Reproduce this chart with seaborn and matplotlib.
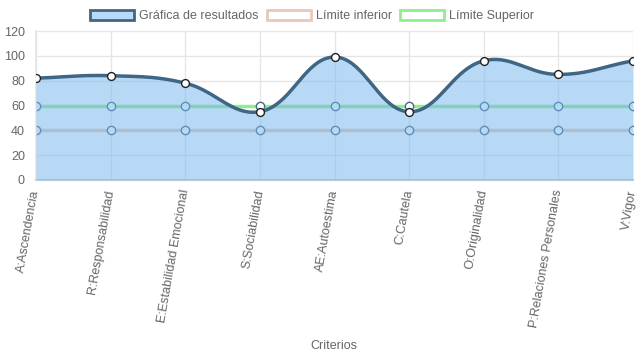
import numpy as np
import pandas as pd
import seaborn as sns
import matplotlib.pyplot as plt
from matplotlib.patches import Patch

# === DATA ===
criterios = [
    "A:Ascendencia", "R:Responsabilidad", "E:Estabilidad Emocional",
    "S:Sociabilidad", "AE:Autoestima", "C:Cautela",
    "O:Originalidad", "P:Relaciones Personales", "V:Vigor",
]
resultados = [82, 84, 78, 55, 99, 55, 96, 85, 96]
limite_inferior = [40, 40, 40, 40, 40, 40, 40, 40, 40]
limite_superior = [60, 60, 60, 60, 60, 60, 60, 60, 60]

# === COLORS ===
c_res_line = "#3f6685"
c_res_fill = (0.45, 0.71, 0.93, 0.5)
c_inf = "#e8c8b8"
c_sup = "#90ee90"
c_grid = "#e6e6e6"
c_text = "#666666"

sns.set_theme(style="white")
plt.rcParams["font.family"] = ["Liberation Sans", "DejaVu Sans"]

df = pd.DataFrame({
    "pos": np.arange(len(criterios)),
    "criterio": criterios,
    "resultados": resultados,
    "inferior": limite_inferior,
    "superior": limite_superior,
})


def spline_curve(xs, ys, sx, sy, tension=0.4, n=40):
    # Chart.js-like bezier smoothing, computed in pixel space
    px = np.asarray(xs, float) * sx
    py = np.asarray(ys, float) * sy
    k = len(px)
    cp_prev = np.zeros((k, 2))
    cp_next = np.zeros((k, 2))
    for i in range(k):
        p0 = (px[max(i - 1, 0)], py[max(i - 1, 0)])
        p1 = (px[i], py[i])
        p2 = (px[min(i + 1, k - 1)], py[min(i + 1, k - 1)])
        d01 = np.hypot(p1[0] - p0[0], p1[1] - p0[1])
        d12 = np.hypot(p2[0] - p1[0], p2[1] - p1[1])
        tot = d01 + d12
        s01 = d01 / tot if tot else 0
        s12 = d12 / tot if tot else 0
        fa, fb = tension * s01, tension * s12
        cp_prev[i] = (p1[0] - fa * (p2[0] - p0[0]), p1[1] - fa * (p2[1] - p0[1]))
        cp_next[i] = (p1[0] + fb * (p2[0] - p0[0]), p1[1] + fb * (p2[1] - p0[1]))
    t = np.linspace(0, 1, n)[:, None]
    segs = []
    for i in range(k - 1):
        P0 = np.array([px[i], py[i]])
        P3 = np.array([px[i + 1], py[i + 1]])
        P1, P2 = cp_next[i], cp_prev[i + 1]
        seg = ((1 - t) ** 3) * P0 + 3 * ((1 - t) ** 2) * t * P1 + 3 * (1 - t) * t ** 2 * P2 + t ** 3 * P3
        segs.append(seg if i == 0 else seg[1:])
    pts = np.vstack(segs)
    return pts[:, 0] / sx, pts[:, 1] / sy


fig = plt.figure(figsize=(6.37, 3.59), dpi=100)
ax = fig.add_axes([36 / 637, 1 - 180 / 359, 597 / 637, 149 / 359])

# limit lines (drawn beneath the results fill)
sns.lineplot(data=df, x="pos", y="inferior", ax=ax, color=c_inf, lw=2.5,
             marker="o", markersize=6, markerfacecolor="white",
             markeredgecolor="#4a6a85", markeredgewidth=1, zorder=2)
sns.lineplot(data=df, x="pos", y="superior", ax=ax, color=c_sup, lw=2.5,
             marker="o", markersize=6, markerfacecolor="white",
             markeredgecolor="#4a6a85", markeredgewidth=1, zorder=2)

# results: smooth curve filled to origin
sx_px = 597 / (len(criterios) - 1)
sy_px = 149 / 120
cx, cy = spline_curve(df["pos"], df["resultados"], sx_px, sy_px)
ax.fill_between(cx, 0, cy, color=c_res_fill, lw=0, zorder=3)
ax.plot(cx, cy, color=c_res_line, lw=2.5, zorder=4)
sns.scatterplot(data=df, x="pos", y="resultados", ax=ax, s=32, color="white",
                edgecolor="#222222", linewidth=1, zorder=5, legend=False)

ax.set_xlim(0, len(criterios) - 1)
ax.set_ylim(0, 120)
ax.set_yticks(range(0, 121, 20))
ax.set_xticks(df["pos"])
ax.set_xticklabels(criterios, rotation=80, ha="right", va="center",
                   rotation_mode="anchor", color=c_text, fontsize=9)
ax.tick_params(axis="y", labelsize=9, labelcolor=c_text, length=6,
               color=c_grid, width=1, pad=2)
ax.tick_params(axis="x", length=5, color=c_grid, width=1, pad=2)
ax.grid(True, color=c_grid, lw=1, zorder=0)
ax.set_axisbelow(True)
for side in ["top", "right"]:
    ax.spines[side].set_visible(False)
ax.spines["left"].set_color(c_grid)
ax.spines["bottom"].set_color("#d0d0d0")
ax.spines["bottom"].set_linewidth(1.5)
ax.set_xlabel("")
ax.set_ylabel("")
fig.text(334 / 637, 1 - 346 / 359, "Criterios", ha="center", va="center",
         color=c_text, fontsize=9)

handles = [
    Patch(facecolor="#b9daf6", edgecolor=c_res_line, lw=2),
    Patch(facecolor="white", edgecolor=c_inf, lw=2),
    Patch(facecolor="white", edgecolor=c_sup, lw=2),
]
fig.legend(handles, ["Gráfica de resultados", "Límite inferior", "Límite Superior"],
           loc="center", bbox_to_anchor=(312 / 637, 1 - 16 / 359), ncol=3,
           frameon=False, fontsize=9, labelcolor=c_text, handlelength=3.5,
           handleheight=0.95, handletextpad=0.4, columnspacing=0.7,
           borderpad=0)

fig.savefig("out.png", dpi=100)
